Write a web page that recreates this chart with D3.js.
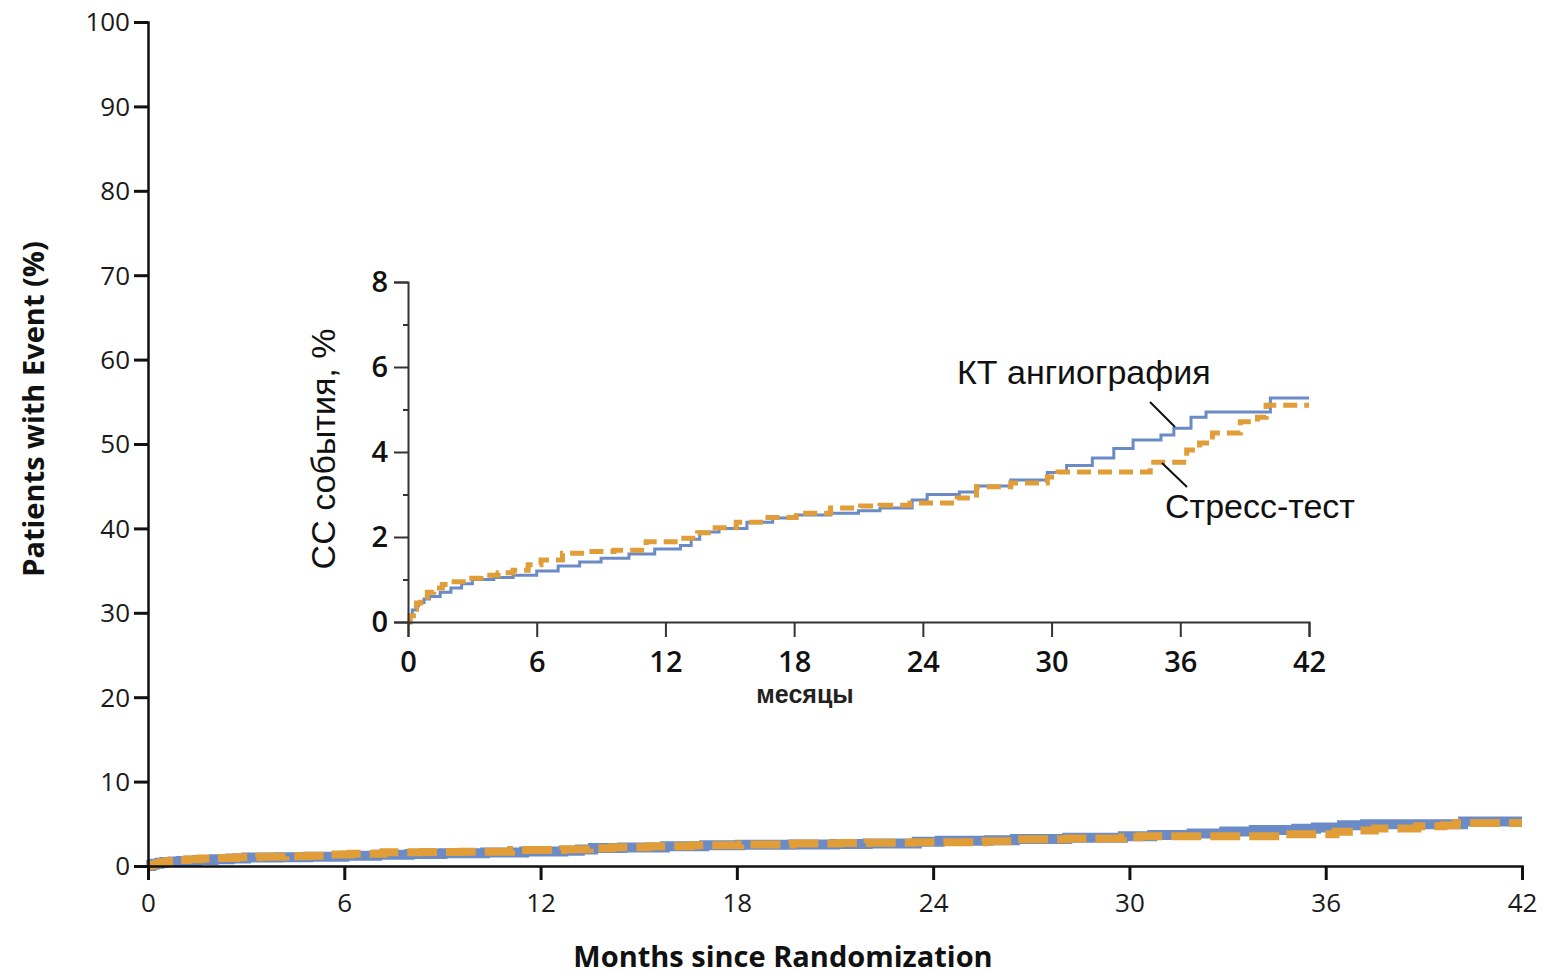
<!DOCTYPE html>
<html>
<head>
<meta charset="utf-8">
<script src="https://cdn.jsdelivr.net/npm/d3@7"></script>
<style>
  html, body { margin: 0; padding: 0; background: #fff; }
  svg { display: block; }
</style>
</head>
<body>
<svg id="chart" width="1544" height="974"></svg>
<script>
// Cumulative event curves (months since randomization, % of patients with event)
const ctMonths = [0, 0.1, 0.2, 0.35, 0.5, 0.75, 1.0, 1.5, 2.0, 2.5, 3.0, 4.0, 4.9, 6.0, 7.0, 8.0, 9.0, 10.3, 11.5, 12.7, 13.2, 13.6, 14.5, 15.8, 17.0, 18.1, 19.7, 21.0, 22.0, 23.5, 24.2, 25.7, 26.5, 28.1, 29.8, 30.7, 31.9, 32.9, 33.8, 35.1, 35.7, 36.5, 37.2, 40.2, 42];
const ctValues = [0, 0.15, 0.28, 0.38, 0.46, 0.54, 0.6, 0.7, 0.8, 0.9, 1.0, 1.05, 1.1, 1.2, 1.32, 1.41, 1.5, 1.6, 1.72, 1.8, 1.95, 2.12, 2.2, 2.35, 2.45, 2.52, 2.56, 2.62, 2.68, 2.87, 3.0, 3.06, 3.2, 3.34, 3.52, 3.68, 3.86, 4.08, 4.28, 4.4, 4.56, 4.82, 4.94, 5.27, 5.27];

const stressMonths = [0, 0.1, 0.25, 0.4, 0.6, 0.9, 1.2, 1.6, 2.0, 2.7, 3.4, 4.2, 4.9, 5.6, 6.2, 7.2, 8.4, 9.6, 11.1, 12.7, 13.5, 14.2, 15.3, 16.6, 18.1, 19.7, 21.1, 22.0, 23.4, 25.6, 26.5, 28.1, 29.8, 30.3, 34.6, 36.3, 36.9, 37.5, 38.8, 39.6, 40.0, 42];
const stressValues = [0, 0.15, 0.3, 0.45, 0.58, 0.7, 0.8, 0.88, 0.95, 1.03, 1.1, 1.16, 1.22, 1.35, 1.46, 1.62, 1.66, 1.69, 1.89, 1.97, 2.1, 2.22, 2.35, 2.46, 2.56, 2.68, 2.73, 2.75, 2.8, 2.92, 3.18, 3.27, 3.41, 3.53, 3.76, 4.05, 4.21, 4.45, 4.71, 4.82, 5.1, 5.1];

const monthTicks = [0, 6, 12, 18, 24, 30, 36, 42];
const mainYTicks = [0, 10, 20, 30, 40, 50, 60, 70, 80, 90, 100];
const insetYTicks = [0, 2, 4, 6, 8];
const insetYMinor = [1, 3, 5, 7];

const seriesNames = ["КТ ангиография", "Стресс-тест"];

const BLUE = "#6b8bc6";
const ORANGE = "#e09d38";
const NUM_FONT = "'Open Sans', 'Noto Sans', sans-serif";
const RU_FONT = "'Liberation Sans', Arial, sans-serif";

const ct = ctMonths.map((m, i) => ({ m, v: ctValues[i] }));
const stress = stressMonths.map((m, i) => ({ m, v: stressValues[i] }));

const svg = d3.select("#chart");

// ---------- main panel ----------
const mx = d3.scaleLinear().domain([0, 42]).range([148, 1522]);
const my = d3.scaleLinear().domain([0, 100]).range([866, 22]);

const mainLine = d3.line().curve(d3.curveStepAfter).x(d => mx(d.m)).y(d => my(d.v));

svg.append("path").datum(ct)
  .attr("d", mainLine).attr("fill", "none")
  .attr("stroke", BLUE).attr("stroke-width", 10);
svg.append("path").datum(stress)
  .attr("d", mainLine).attr("fill", "none")
  .attr("stroke", ORANGE).attr("stroke-width", 8)
  .attr("stroke-dasharray", "30,9");

const mainYAxis = svg.append("g").attr("transform", `translate(${mx(0)},0)`)
  .call(d3.axisLeft(my).tickValues(mainYTicks).tickSize(14).tickPadding(4));
const mainXAxis = svg.append("g").attr("transform", `translate(0,${my(0)})`)
  .call(d3.axisBottom(mx).tickValues(monthTicks).tickSize(14).tickPadding(14));

[mainYAxis, mainXAxis].forEach(g => {
  g.select(".domain").attr("stroke", "#111").attr("stroke-width", 2.5);
  g.selectAll(".tick line").attr("stroke", "#111").attr("stroke-width", 3);
  g.selectAll(".tick text").attr("fill", "#1a1a1a")
    .style("font-family", NUM_FONT).style("font-size", "26px");
});
mainYAxis.selectAll(".tick text").attr("dy", "0.34em");

svg.append("text")
  .attr("transform", `translate(44,409) rotate(-90)`)
  .attr("text-anchor", "middle")
  .style("font-family", NUM_FONT).style("font-size", "29px").style("font-weight", 700)
  .attr("fill", "#111")
  .text("Patients with Event (%)");

svg.append("text")
  .attr("x", 783).attr("y", 967)
  .attr("text-anchor", "middle")
  .style("font-family", NUM_FONT).style("font-size", "29px").style("font-weight", 700)
  .attr("fill", "#111")
  .text("Months since Randomization");

// ---------- inset panel ----------
const ix = d3.scaleLinear().domain([0, 42]).range([408, 1309]);
const iy = d3.scaleLinear().domain([0, 8]).range([622, 282]);

const insetLine = d3.line().curve(d3.curveStepAfter).x(d => ix(d.m)).y(d => iy(d.v));

svg.append("path").datum(ct)
  .attr("d", insetLine).attr("fill", "none")
  .attr("stroke", BLUE).attr("stroke-width", 3);
svg.append("path").datum(stress)
  .attr("d", insetLine).attr("fill", "none")
  .attr("stroke", ORANGE).attr("stroke-width", 5)
  .attr("stroke-dasharray", "14,7");

const insetYMinorAxis = svg.append("g").attr("transform", `translate(${ix(0)},0)`)
  .call(d3.axisLeft(iy).tickValues(insetYMinor).tickSize(5).tickFormat(""));
insetYMinorAxis.select(".domain").remove();
insetYMinorAxis.selectAll(".tick line").attr("stroke", "#333").attr("stroke-width", 2);

const insetYAxis = svg.append("g").attr("transform", `translate(${ix(0)},0)`)
  .call(d3.axisLeft(iy).tickValues(insetYTicks).tickSize(14).tickPadding(6));
const insetXAxis = svg.append("g").attr("transform", `translate(0,${iy(0)})`)
  .call(d3.axisBottom(ix).tickValues(monthTicks).tickSize(15).tickPadding(14));

[insetYAxis, insetXAxis].forEach(g => {
  g.select(".domain").attr("stroke", "#333").attr("stroke-width", 2);
  g.selectAll(".tick line").attr("stroke", "#333").attr("stroke-width", 2);
  g.selectAll(".tick text").attr("fill", "#111")
    .style("font-family", NUM_FONT).style("font-size", "29px").style("font-weight", 600);
});
insetYAxis.selectAll(".tick text").attr("dy", "0.34em");

svg.append("text")
  .attr("transform", `translate(335,449) rotate(-90)`)
  .attr("text-anchor", "middle")
  .style("font-family", RU_FONT).style("font-size", "34px")
  .attr("fill", "#111")
  .text("СС события, %");

svg.append("text")
  .attr("x", 805).attr("y", 703)
  .attr("text-anchor", "middle")
  .style("font-family", RU_FONT).style("font-size", "25px").style("font-weight", 700)
  .attr("fill", "#222")
  .text("месяцы");

// series labels with leader lines
svg.append("text")
  .attr("x", 957).attr("y", 384)
  .style("font-family", RU_FONT).style("font-size", "34px")
  .attr("fill", "#111")
  .text(seriesNames[0]);
svg.append("line")
  .attr("x1", 1150).attr("y1", 402).attr("x2", 1175).attr("y2", 427)
  .attr("stroke", "#111").attr("stroke-width", 2);

svg.append("text")
  .attr("x", 1165).attr("y", 518)
  .style("font-family", RU_FONT).style("font-size", "34px")
  .attr("fill", "#111")
  .text(seriesNames[1]);
svg.append("line")
  .attr("x1", 1162).attr("y1", 463).attr("x2", 1187).attr("y2", 487)
  .attr("stroke", "#111").attr("stroke-width", 2);
</script>
</body>
</html>
